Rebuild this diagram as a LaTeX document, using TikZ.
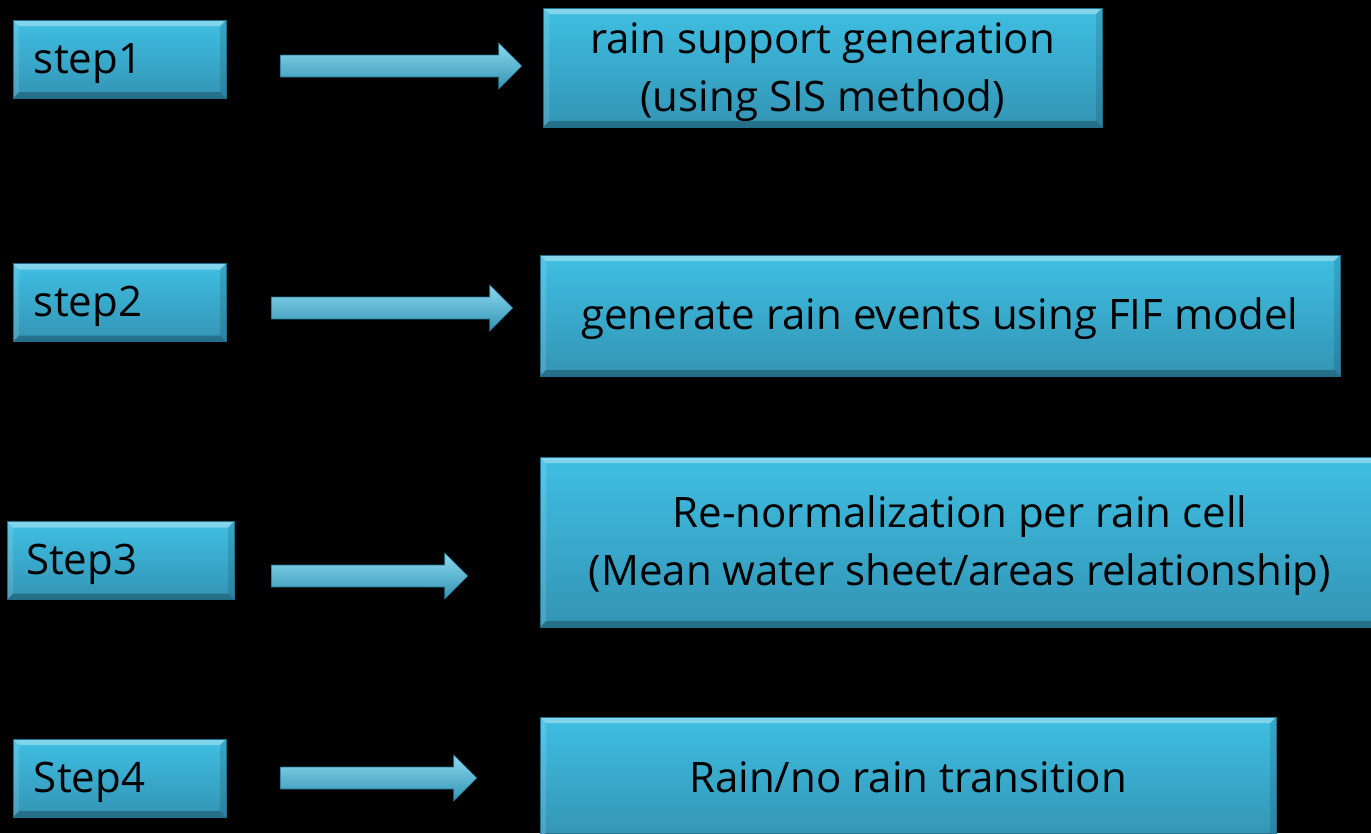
\documentclass[tikz,border=0pt]{standalone}
\usepackage{fontspec}
\setmainfont{Open Sans}
\usepackage{tikz}
\usetikzlibrary{calc,positioning}

\definecolor{boxtop}{HTML}{3FBFE2}
\definecolor{boxbot}{HTML}{3394B5}
\definecolor{boxline}{HTML}{1F6F88}

% shaded block arrow between two named coordinates
\newcommand{\blockarrow}[2]{%
  \shade[top color=boxtop!60!white,middle color=boxtop,bottom color=boxbot,draw=boxline,line width=0.6pt]
    ($(#1)+(0,11)$) -- ($(#2)+(-23,11)$) -- ($(#2)+(-23,23)$) -- (#2)
    -- ($(#2)+(-23,-23)$) -- ($(#2)+(-23,-11)$) -- ($(#1)+(0,-11)$) -- cycle;}

\begin{document}
\begin{tikzpicture}[x=1pt,y=1pt,font=\fontsize{42}{58}\selectfont]
	\tikzstyle{every node}=[top color=boxtop,bottom color=boxbot,draw=boxline,line width=0.6pt,text=black,
		text height=40pt,text depth=12pt,
		path picture={
			\fill[white,opacity=.35] (path picture bounding box.north west) -- (path picture bounding box.north east)
				-- ([shift={(-6pt,-6pt)}]path picture bounding box.north east) -- ([shift={(6pt,-6pt)}]path picture bounding box.north west) -- cycle;
			\fill[black,opacity=.25] (path picture bounding box.south west) -- (path picture bounding box.south east)
				-- ([shift={(-6pt,6pt)}]path picture bounding box.south east) -- ([shift={(6pt,6pt)}]path picture bounding box.south west) -- cycle;
			\fill[white,opacity=.12] (path picture bounding box.north west) -- (path picture bounding box.south west)
				-- ([shift={(6pt,6pt)}]path picture bounding box.south west) -- ([shift={(6pt,-6pt)}]path picture bounding box.north west) -- cycle;
			\fill[black,opacity=.12] (path picture bounding box.north east) -- (path picture bounding box.south east)
				-- ([shift={(-6pt,6pt)}]path picture bounding box.south east) -- ([shift={(-6pt,-6pt)}]path picture bounding box.north east) -- cycle;
		}]
	\tikzstyle{stepbox}=[inner xsep=21pt,inner ysep=0pt,text width=171pt,minimum height=78pt,align=left]
	\tikzstyle{taskbox}=[inner sep=0pt,align=center]
	\tikzstyle{twolines}=[text height=99pt,text depth=12pt]

	\fill[black] (0,0) rectangle (1371,-833);
	\useasboundingbox (0,0) rectangle (1371,-833);

	\node[stepbox]	(S1)	at (119.5,-59)		{step1};
	\node[stepbox]	(S2)	at (119.5,-302.5)	{step2};
	\node[stepbox,inner xsep=19pt,text width=189pt]	(S3)	at (120.5,-560.5)	{Step3};
	\node[stepbox]	(S4)	at (119.5,-778)		{Step4};

	\node[taskbox,twolines,minimum width=559pt,minimum height=119pt]	(T1)	at (822.5,-67.5)	{rain support generation\\(using SIS method)};
	\node[taskbox,minimum width=800pt,minimum height=121pt]	(T2)	at (940,-315.5)		{generate rain events using FIF model};
	\node[taskbox,twolines,minimum width=840pt,minimum height=170pt]	(T3)	at (960,-542)		{Re-normalization per rain cell\\ (Mean water sheet/areas relationship)};
	\node[taskbox,minimum width=736pt,minimum height=122pt]	(T4)	at (908,-778)		{Rain/no rain transition};

	\coordinate (A1) at ([shift={(54pt,-7pt)}]S1.east);
	\coordinate (B1) at ([xshift=-21pt]T1.west |- A1);
	\coordinate (A2) at ([shift={(45pt,-5.5pt)}]S2.east);
	\coordinate (B2) at ([xshift=-27pt]T2.west |- A2);
	\coordinate (A3) at ([shift={(37pt,-15.5pt)}]S3.east);
	\coordinate (B3) at ([xshift=-72pt]T3.west |- A3);
	\coordinate (A4) at ([xshift=54pt]S4.east);
	\coordinate (B4) at ([xshift=-63pt]T4.west |- A4);

	\blockarrow{A1}{B1}
	\blockarrow{A2}{B2}
	\blockarrow{A3}{B3}
	\blockarrow{A4}{B4}
\end{tikzpicture}
\end{document}
